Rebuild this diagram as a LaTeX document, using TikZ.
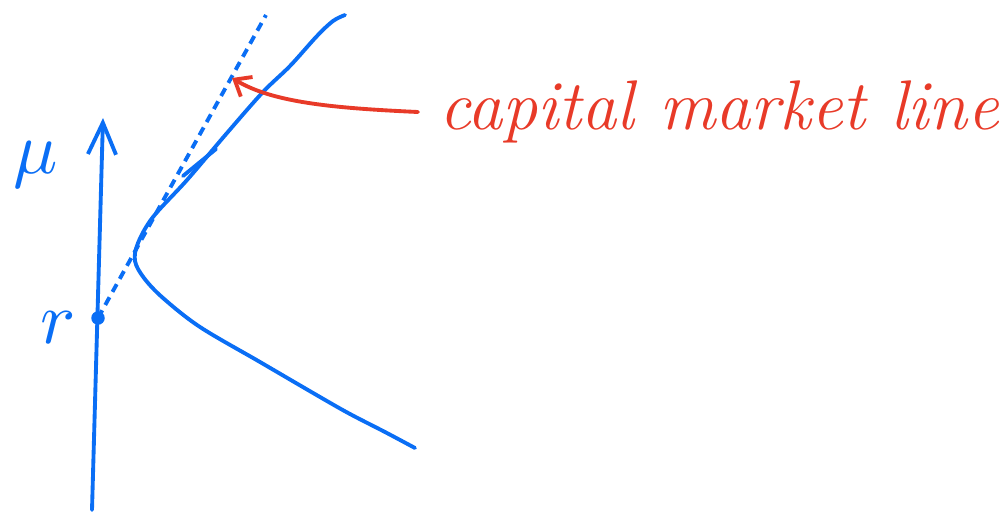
\documentclass[tikz,border=0pt]{standalone}
\usepackage{amsmath, amssymb}
\usepackage{xcolor}
\usetikzlibrary{
    arrows.meta,
    calc,
    positioning
}
\definecolor{penblue}{RGB}{10,110,245}
\definecolor{penred}{RGB}{232,58,40}
\tikzset
{
  pen/.style={draw=penblue,line width=2.2pt,line cap=round,line join=round},
  axis/.style={pen,-{Straight Barb[length=18pt,width=16pt,line width=2.2pt]}},
  tangent/.style={draw=penblue,line width=2.2pt,dash pattern=on 5pt off 3.5pt},
  pointer/.style={draw=penred,line width=2.2pt,line cap=round,-{Straight Barb[length=8pt,width=13pt,line width=2.2pt]}},
  handlabel/.style={text=penblue,scale=4.2}
}

\begin{document}
\begin{tikzpicture}[x=0.02cm,y=-0.02cm]

    % Fix the page to the sketch size
    \useasboundingbox (0,0) rectangle (1003,511);

    % Draw the mu axis
    \coordinate (axisbottom) at (92,510);
    \coordinate (axistop) at (103,118);
    \draw[axis] (axisbottom) -- (axistop);
    \node[handlabel] (mulabel) at (36,165) {$\mu$};

    % Draw the risk free point r
    \node[circle, fill=penblue, inner sep=0pt, minimum size=0.27cm] (rpt) at (98,318) {};
    \node[handlabel] (rlabel) at (58,328) {$r$};

    % Draw the efficient frontier (hyperbola)
    \draw[pen] plot[smooth, tension=0.55] coordinates {
        (415,448) (385,432) (350,414) (320,397) (260,362) (200,327)
        (163,298) (144,278) (135,261) (138,243) (153,217) (187,180)
        (227,133) (263,92) (290,66) (317,36) (333,21) (345,15)};
    \draw[pen] (183,176) -- (216,149); % small hook on the frontier

    % Draw the tangent line from r (dashed)
    \coordinate (tangenttop) at (266,15);
    \draw[tangent] (rpt.center) -- (tangenttop);

    % Label the tangent line
    \node[text=penred, anchor=west, inner sep=12pt, font=\fontsize{40}{42}\selectfont\itshape] (cml) at (418,112) {capital market line};
    \coordinate (pointtip) at (232,78);
    \draw[pointer] (cml.west) .. controls (330,108) and (272,102) .. (pointtip);

\end{tikzpicture}
\end{document}
